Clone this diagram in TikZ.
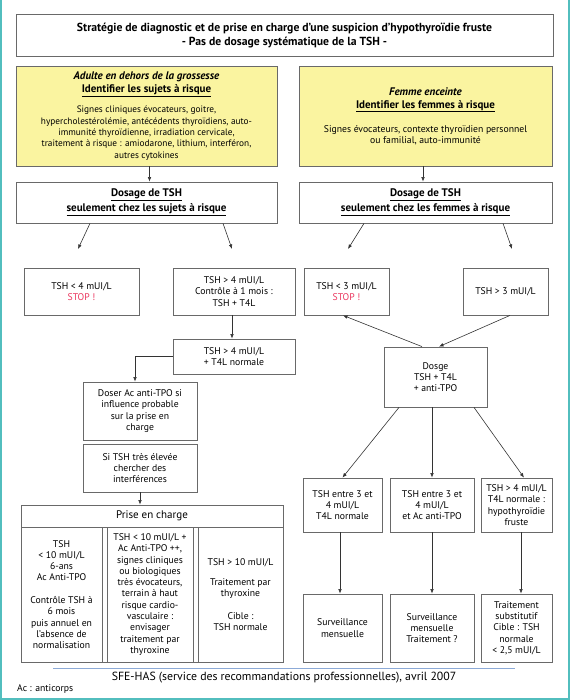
\documentclass[tikz,border=0pt]{standalone}
\usepackage{fontspec}
\setmainfont{PT Sans}
\usetikzlibrary{arrows.meta,calc}
\definecolor{teal1}{RGB}{82,190,190}
\definecolor{yel}{RGB}{250,244,160}
\definecolor{stopred}{RGB}{235,55,95}
\definecolor{bord}{RGB}{105,105,105}
\definecolor{blueline}{RGB}{140,170,215}
\newcommand\bx[7]{\node[#6, minimum width={#4-#2}, minimum height={#5-#3}] (#1) at ({(#2+#4)/2},{(#3+#5)/2}) {#7};}
\newcommand\hf{\fontsize{11}{13}\selectfont\bfseries}
\newcommand\tf{\fontsize{11.7}{13}\selectfont\bfseries}
\begin{document}
\begin{tikzpicture}[x=1pt,y=-1pt,
  font=\fontsize{9.7}{11.3}\selectfont,
  box/.style={draw=bord, line width=0.8pt, fill=white, align=center, inner sep=0pt},
  ybox/.style={box, fill=yel},
  arr/.style={-{Latex[length=4.5pt,width=3.6pt]}, line width=0.6pt, draw=black!80}]
\useasboundingbox (0,0) rectangle (570,700);
\draw[teal1, line width=1.6pt] (0.8,0) -- (0.8,699.2) -- (569.2,699.2) -- (569.2,0);

% header
\bx{title}{16}{15}{553}{57}{box, line width=1pt}{{\tf Stratégie de diagnostic et de prise en charge d’une suspicion d’hypothyroïdie fruste}\\[2.7pt] {\tf - Pas de dosage systématique de la TSH -}}

% yellow boxes
\bx{yelL}{16}{66}{277}{166}{ybox}{{\hf\itshape Adulte en dehors de la grossesse}\\[1.7pt] {\hf\underline{Identifier les sujets à risque}}\\[9pt] {\fontsize{9.3}{11.3}\selectfont Signes cliniques évocateurs, goitre,}\\ {\fontsize{9.3}{11.3}\selectfont hypercholestérolémie, antécédents thyroïdiens, auto-}\\ {\fontsize{9.3}{11.3}\selectfont immunité thyroïdienne, irradiation cervicale,}\\ {\fontsize{9.3}{11.3}\selectfont traitement à risque : amiodarone, lithium, interféron,}\\ {\fontsize{9.3}{11.3}\selectfont autres cytokines}}
\bx{yelR}{299}{66}{552}{166}{ybox}{{\hf\itshape Femme enceinte}\\[1.7pt] {\hf\underline{Identifier les femmes à risque}}\\[12.7pt] Signes évocateurs, contexte thyroïdien personnel\\ ou familial, auto-immunité}

% dosage boxes
\bx{dosL}{16}{182}{277}{223}{box}{{\hf\underline{Dosage de TSH}}\\[1.7pt] {\hf\underline{seulement chez les sujets à risque}}}
\bx{dosR}{299}{182}{552}{223}{box}{{\hf\underline{Dosage de TSH}}\\[1.7pt] {\hf\underline{seulement chez les femmes à risque}}}

% left branch
\bx{tshlt}{24}{268}{139}{315}{box}{TSH < 4 mUI/L\\ {\color{stopred}STOP !}}
\bx{tsh4a}{173}{268}{295}{315}{box}{TSH > 4 mUI/L\\ Contrôle à 1 mois :\\ TSH + T4L}
\bx{tsh4b}{173}{339}{295}{374}{box}{TSH > 4 mUI/L\\ + T4L normale}
\bx{doser}{83}{382}{197}{440}{box}{Doser Ac anti-TPO si\\ influence probable\\ sur la prise en\\ charge}
\bx{sitsh}{83}{444}{197}{492}{box}{Si TSH très élevée\\ chercher des\\ interférences}

% prise en charge
\bx{prise}{21}{505}{283}{662}{box}{}
\bx{prisehead}{21}{505}{283}{527}{box}{\fontsize{11}{13}\selectfont Prise en charge}
\bx{pc1}{21}{527}{102}{662}{box}{TSH\\ < 10 mUI/L\\ 6-ans\\ Ac Anti-TPO\\[11.3pt] Contrôle TSH à\\ 6 mois\\ puis annuel en\\ l’absence de\\ normalisation}
\bx{pc2}{107}{527}{193}{662}{box}{TSH < 10 mUI/L +\\ Ac Anti-TPO ++,\\ signes cliniques\\ ou biologiques\\ très évocateurs,\\ terrain à haut\\ risque cardio-\\ vasculaire :\\ envisager\\ traitement par\\ thyroxine}
\bx{pc3}{198}{527}{283}{662}{box}{TSH > 10 mUI/L\\[9pt] Traitement par\\ thyroxine\\[11.3pt] Cible :\\ TSH normale}

% right branch
\bx{tsh3a}{304}{268}{389}{315}{box}{TSH < 3 mUI/L\\ {\color{stopred}STOP !}}
\bx{tsh3b}{463}{268}{548}{315}{box}{TSH > 3 mUI/L}
\bx{dosge}{384}{347}{487}{407}{box}{Dosge\\ TSH + T4L\\ + anti-TPO}
\bx{r1}{303}{478}{382}{532}{box}{TSH entre 3 et\\ 4 mUI/L\\ T4L normale}
\bx{r2}{390}{478}{474}{532}{box}{TSH entre 3 et\\ 4 mUI/L\\ et Ac anti-TPO}
\bx{r3}{481}{478}{552}{532}{box}{TSH > 4 mUI/L\\ T4L normale :\\ hypothyroïdie\\ fruste}
\bx{s1}{303}{594}{382}{662}{box}{Surveillance\\ mensuelle}
\bx{s2}{390}{594}{474}{662}{box}{Surveillance\\ mensuelle\\ Traitement ?}
\bx{s3}{481}{594}{552}{662}{box}{Traitement\\ substitutif\\ Cible : TSH\\ normale\\ < 2,5 mUI/L}

% free arrow ends
\coordinate (eL1) at (78,249);
\coordinate (eL2) at (232,249);
\coordinate (eR1) at (348,249);
\coordinate (eR2) at (512,249);

% connectors
\draw[arr] ($(yelL.south)+(3,0)$) -- ($(dosL.north)+(3,0)$);
\draw[arr] ($(yelR.south)+(-2.5,0)$) -- ($(dosR.north)+(-2.5,0)$);
\draw[arr] ($(dosL.south)+(-56.5,0)$) -- (eL1);
\draw[arr] ($(dosL.south)+(76.5,0)$) -- (eL2);
\draw[arr] ($(dosR.south)+(-61.5,0)$) -- (eR1);
\draw[arr] ($(dosR.south)+(77.5,0)$) -- (eR2);
\draw[arr] ($(tsh4a.south)+(-2,0)$) -- ($(tsh4b.north)+(-2,0)$);
\draw[arr] (tsh4b.west) -| ($(doser.north)+(-5,0)$);
\draw[arr] (sitsh.south) -- (sitsh.south |- prisehead.north);
\draw[arr] ($(dosge.north)+(-13.5,0)$) -- ($(tsh3a.south)+(-3.5,0)$);
\draw[arr] ($(tsh3b.south)+(4.5,0)$) -- ($(dosge.north)+(3.5,0)$);
\draw[arr] ($(dosge.south)+(-36.5,0)$) -- (r1.north);
\draw[arr] ($(dosge.south)+(-3.5,0)$) -- (r2.north);
\draw[arr] ($(dosge.south)+(38.5,0)$) -- ($(r3.north)+(7.5,0)$);
\draw[arr] ($(r1.south)+(-2.5,0)$) -- ($(s1.north)+(-2.5,0)$);
\draw[arr] (r2.south) -- (s2.north);
\draw[arr] ($(r3.south)+(4.5,0)$) -- ($(s3.north)+(4.5,0)$);

% footer
\draw[blueline, line width=0.9pt] (53,668) -- (515,668);
\node[font=\fontsize{11.8}{13}\selectfont] (src) at (284,677.5) {SFE-HAS (service des recommandations professionnelles), avril 2007};
\node[anchor=west, inner sep=0pt] (ac) at (17,689) {Ac : anticorps};
\end{tikzpicture}
\end{document}
